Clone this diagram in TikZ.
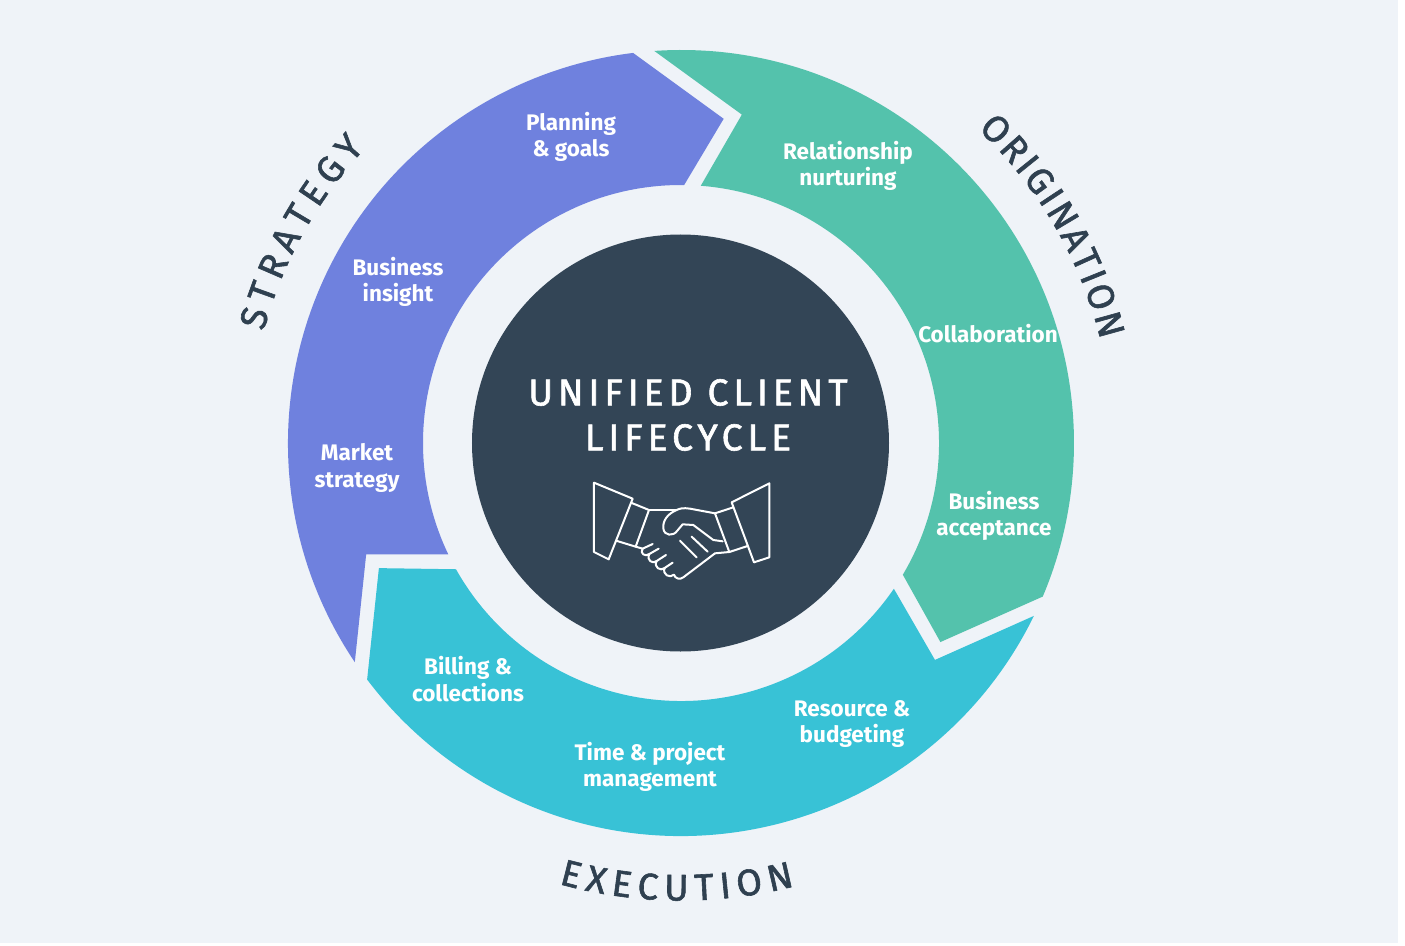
\documentclass[tikz,border=0pt]{standalone}
\usepackage{fontspec}
\setmainfont{Fira Sans}
\newfontfamily\ringfont[FakeBold=1.6]{Fira Sans}
\newfontfamily\titlefont[LetterSpace=13,FakeBold=1.6]{Fira Sans}
\usetikzlibrary{decorations.text}
\definecolor{bgc}{HTML}{EFF3F8}
\definecolor{strat}{HTML}{6F81DE}
\definecolor{orig}{HTML}{54C2AC}
\definecolor{execc}{HTML}{38C2D6}
\definecolor{core}{HTML}{334556}
\definecolor{ringtxt}{HTML}{2F4050}
\begin{document}
\begin{tikzpicture}[x=1pt,y=1pt,
  seglabel/.style={text=white, font=\bfseries\fontsize{22.5}{26.5}\selectfont, align=center, inner sep=0pt},
  hs/.style={draw=white, line width=2pt, line join=round, line cap=round},
  ringtext/.style={decorate, decoration={text along path, text align={fit to path}, text color=ringtxt, text={|\ringfont\fontsize{37}{40}\selectfont|#1}}}
]
\useasboundingbox (-681,-502) rectangle (724,443);
\fill[white] (-681,-502) rectangle (724,443);
\fill[bgc] (-681,-500) rectangle (717,443);
% ring segments
\fill[strat] (213.9:393) arc[start angle=213.9, end angle=97, radius=393] -- (82.5:327) -- (89.3:258) arc[start angle=89.3, end angle=205.6, radius=258] -- (199.5:334) -- cycle;
\fill[orig] (93.9:393) arc[start angle=93.9, end angle=-23, radius=393] -- (-37.5:327) -- (-30.7:258) arc[start angle=-30.7, end angle=85.6, radius=258] -- (79.5:334) -- cycle;
\fill[execc] (-26.1:393) arc[start angle=-26.1, end angle=-143, radius=393] -- (-157.5:327) -- (-150.7:258) arc[start angle=-150.7, end angle=-34.4, radius=258] -- (-40.5:334) -- cycle;
% core
\node[circle, fill=core, minimum size=417pt, inner sep=0pt] (core) at (-0.5,0) {};
% ring labels
\path[ringtext=ORIGINATION] (46.6:432) arc[start angle=46.6, end angle=13.8, radius=432];
\path[ringtext=STRATEGY] (165.0:432) arc[start angle=165.0, end angle=137.0, radius=432];
\path[ringtext=EXECUTION] (-105.5:457.5) arc[start angle=-105.5, end angle=-75.6, radius=457.5];
\begin{scope}[shift={(-681,443)}, yscale=-1]
  \node[text=white, font=\titlefont\fontsize{37.5}{45}\selectfont, align=center, inner sep=0pt] (title) at (688,415) {UNIFIED CLIENT\\LIFECYCLE};
  \node[seglabel] (plan) at (571,137) {Planning\\\& goals};
  \node[seglabel] (insight) at (398,282) {Business\\insight};
  \node[seglabel] (market) at (357,468) {Market\\strategy};
  \node[seglabel] (relat) at (848,166) {Relationship\\nurturing};
  \node[seglabel] (collab) at (988,334) {Collaboration};
  \node[seglabel] (accept) at (994,516) {Business\\acceptance};
  \node[seglabel] (billing) at (468,679) {Billing \&\\collections};
  \node[seglabel] (time) at (650,767) {Time \& project\\management};
  \node[seglabel] (resource) at (852,724) {Resource \&\\budgeting};
  % handshake icon
  \begin{scope}[shift={(580,470)}, scale=1/3]
    \draw[hs] (42,38) -- (158,86) -- (86,268) -- (42,246) -- cycle;
    \draw[hs] (153,98) -- (207,120) -- (167,230) -- (108,212);
    \draw[hs] (568,40) -- (568,262) -- (522,277) -- (455,97) -- cycle;
    \draw[hs] (460,112) -- (405,130) -- (448,246) -- (503,228);
    % upper hand with thumb
    \draw[hs] (405,130) -- (330,116) .. controls (310,113) and (300,115) .. (290,120)
      .. controls (262,132) and (248,152) .. (250,175)
      .. controls (252,198) and (280,200) .. (292,182)
      -- (308,163) -- (340,165) -- (400,210) -- (428,214);
    % lower hand top
    \draw[hs] (207,120) -- (290,120);
    % lower hand fingers
    \draw[hs] (167,230) -- (188,236)
      .. controls (178,250) and (196,262) .. (208,252)
      .. controls (198,270) and (218,284) .. (230,273)
      .. controls (220,292) and (242,305) .. (254,294)
      .. controls (246,314) and (270,326) .. (282,314)
      .. controls (285,326) and (300,330) .. (310,322)
      -- (405,250) -- (448,246);
    \draw[hs] (188,236) -- (218,222);
    \draw[hs] (208,252) -- (236,236);
    \draw[hs] (230,273) -- (258,255);
    \draw[hs] (254,294) -- (278,278);
    \draw[hs] (300,212) -- (350,262);
    \draw[hs] (335,200) -- (383,245);
  \end{scope}
\end{scope}
\end{tikzpicture}
\end{document}
